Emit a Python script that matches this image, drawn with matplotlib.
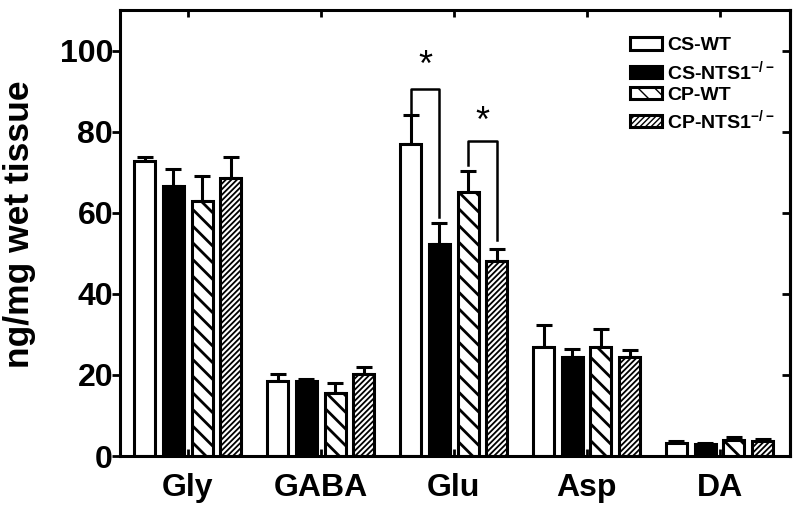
import numpy as np
import matplotlib
matplotlib.use("Agg")
import matplotlib.pyplot as plt

plt.rcParams['font.family'] = ['Liberation Sans', 'DejaVu Sans']
plt.rcParams['font.weight'] = 'bold'
plt.rcParams['mathtext.fontset'] = 'custom'
plt.rcParams['mathtext.rm'] = 'Liberation Sans:bold'
plt.rcParams['mathtext.bf'] = 'Liberation Sans:bold'
plt.rcParams['mathtext.default'] = 'bf'

categories = ["Gly", "GABA", "Glu", "Asp", "DA"]
series = ["CS-WT", r"CS-NTS1$^{-/-}$", "CP-WT", r"CP-NTS1$^{-/-}$"]

cs_wt = [72.9, 18.6, 77.1, 27.0, 3.3]
cs_wt_err = [1.0, 1.6, 7.0, 5.3, 0.5]
cs_ko = [66.6, 18.5, 52.2, 24.4, 3.0]
cs_ko_err = [4.3, 0.6, 5.3, 1.9, 0.2]
cp_wt = [63.0, 15.6, 65.2, 27.0, 4.0]
cp_wt_err = [6.2, 2.5, 5.2, 4.3, 0.6]
cp_ko = [68.6, 20.2, 48.2, 24.4, 3.8]
cp_ko_err = [5.2, 1.7, 2.9, 1.8, 0.4]

values = [cs_wt, cs_ko, cp_wt, cp_ko]
errors = [cs_wt_err, cs_ko_err, cp_wt_err, cp_ko_err]
faces = ["white", "black", "white", "white"]
hatches = [None, None, "\\\\", "//////"]
hatch_lw = [1.0, 1.0, 2.0, 1.3]

# significance brackets on Glu: (bar i, bar j, left arm end, top, right arm end, star y)
brackets = [(0, 1, 84.3, 90.6, 59.0, 96.0), (2, 3, 71.9, 77.8, 53.3, 82.2)]

fig = plt.figure(figsize=(8.0, 5.09), dpi=100)
ax = fig.add_axes([0.15, 0.104, 0.8375, 0.876])

x = np.arange(len(categories))
step = 0.216
width = 0.158
offsets = (np.arange(4) - 1.5) * step

for k in range(4):
    with plt.rc_context({'hatch.linewidth': hatch_lw[k]}):
        ax.bar(x + offsets[k], values[k], width, color=faces[k], edgecolor="black",
               linewidth=2.2, hatch=hatches[k], label=series[k], zorder=2)
    ax.errorbar(x + offsets[k], values[k], yerr=[np.zeros(5), errors[k]],
                fmt="none", ecolor="black", elinewidth=2.2, capsize=6,
                capthick=2.2, zorder=1)

g = 2
for i, j, lend, top, rend, sy in brackets:
    xi = g + offsets[i]
    xj = g + offsets[j]
    ax.plot([xi, xi, xj, xj], [lend, top, top, rend], color="black", lw=1.8)
    ax.text((xi + xj) / 2, sy, "*", ha="center", va="center",
            fontsize=26, fontweight="normal")

ax.set_xlim(-0.51, 4.53)
ax.set_ylim(0, 110)
ax.set_xticks(x)
ax.set_xticklabels(categories, fontsize=23, fontweight="bold")
ax.set_yticks(np.arange(0, 101, 20))
ax.tick_params(axis="y", labelsize=23, direction="out", length=6, width=2, pad=-1)
ax.tick_params(axis="x", direction="in", length=5, width=2, top=True, pad=12)
for lab in ax.get_yticklabels():
    lab.set_fontweight("bold")
for sp in ax.spines.values():
    sp.set_linewidth(2.2)

sec = ax.secondary_yaxis("right")
sec.set_yticks(np.arange(0, 101, 20))
sec.tick_params(direction="in", length=6, width=2, labelright=False)
sec.spines["right"].set_linewidth(2.2)

ax.set_ylabel("ng/mg wet tissue", fontsize=25.5, fontweight="bold")
ax.yaxis.set_label_coords(-0.125, 0.52)

ax.legend(loc="upper right", bbox_to_anchor=(0.995, 0.965), frameon=False,
          fontsize=14, handlelength=1.6, handleheight=0.6, labelspacing=0.22,
          handletextpad=0.3, borderaxespad=0.2)

fig.savefig("out.png", dpi=100)
